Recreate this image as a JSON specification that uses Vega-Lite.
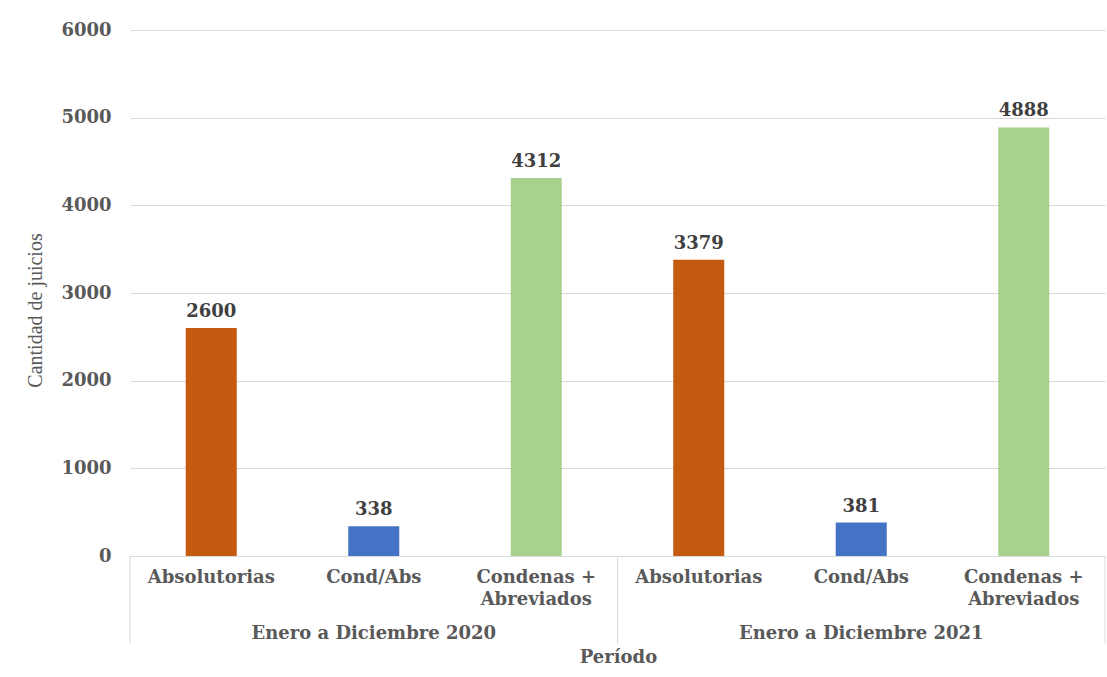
{
  "$schema": "https://vega.github.io/schema/vega-lite/v6.json",
  "width": 975,
  "height": 526,
  "autosize": "none",
  "padding": {"left": 130, "top": 30, "right": 2, "bottom": 121},
  "background": "white",
  "config": {
    "view": {"stroke": null},
    "font": "DejaVu Serif"
  },
  "data": {
    "values": [
      {"periodo": "Enero a Diciembre 2020", "tipo": "Absolutorias", "cantidad": 2600},
      {"periodo": "Enero a Diciembre 2020", "tipo": "Cond/Abs", "cantidad": 338},
      {"periodo": "Enero a Diciembre 2020", "tipo": "Condenas + Abreviados", "cantidad": 4312},
      {"periodo": "Enero a Diciembre 2021", "tipo": "Absolutorias", "cantidad": 3379},
      {"periodo": "Enero a Diciembre 2021", "tipo": "Cond/Abs", "cantidad": 381},
      {"periodo": "Enero a Diciembre 2021", "tipo": "Condenas + Abreviados", "cantidad": 4888}
    ]
  },
  "transform": [
    {"calculate": "datum.periodo + '|' + datum.tipo", "as": "clave"}
  ],
  "encoding": {
    "x": {
      "field": "clave",
      "type": "nominal",
      "sort": null,
      "scale": {"paddingInner": 0, "paddingOuter": 0},
      "axis": {
        "title": "Período",
        "titleFont": "DejaVu Serif",
        "titleFontWeight": "bold",
        "titleFontSize": 18,
        "titleColor": "#595959",
        "titleX": 488,
        "titleY": 106,
        "titleBaseline": "alphabetic",
        "labelExpr": "indexof(datum.value, 'Condenas') >= 0 ? ['Condenas +', 'Abreviados'] : split(datum.value, '|')[1]",
        "labelAngle": 0,
        "labelFont": "DejaVu Serif",
        "labelFontWeight": "bold",
        "labelFontSize": 18,
        "labelColor": "#595959",
        "labelBaseline": "top",
        "labelLineHeight": 22,
        "labelPadding": 12,
        "ticks": false,
        "domainColor": "#D9D9D9",
        "domainWidth": 1,
        "grid": false
      }
    }
  },
  "layer": [
    {
      "mark": {"type": "bar", "width": {"band": 0.314}},
      "encoding": {
        "y": {
          "field": "cantidad",
          "type": "quantitative",
          "scale": {"domain": [0, 6000], "nice": false, "zero": true},
          "axis": {
            "values": [0, 1000, 2000, 3000, 4000, 5000, 6000],
            "format": "d",
            "title": "Cantidad de juicios",
            "titleFont": "Liberation Serif",
            "titleFontWeight": "normal",
            "titleFontSize": 20,
            "titleColor": "#595959",
            "titleAngle": -90,
            "titleX": -95,
            "titleY": 280,
            "titleAlign": "center",
            "titleBaseline": "middle",
            "labelFont": "DejaVu Serif",
            "labelFontWeight": "bold",
            "labelFontSize": 18,
            "labelColor": "#595959",
            "labelPadding": 19,
            "ticks": false,
            "domain": false,
            "grid": true,
            "gridColor": "#D9D9D9",
            "gridWidth": 1
          }
        },
        "color": {
          "field": "tipo",
          "type": "nominal",
          "scale": {
            "domain": ["Absolutorias", "Cond/Abs", "Condenas + Abreviados"],
            "range": ["#C55A11", "#4472C4", "#A9D18E"]
          },
          "legend": null
        }
      }
    },
    {
      "mark": {"type": "text", "baseline": "alphabetic", "dy": -11, "font": "DejaVu Serif", "fontWeight": "bold", "fontSize": 18, "color": "#404040"},
      "encoding": {
        "y": {"field": "cantidad", "type": "quantitative"},
        "text": {"field": "cantidad", "type": "quantitative", "format": "d"}
      }
    },
    {
      "transform": [{"filter": "datum.tipo === 'Absolutorias'"}],
      "mark": {"type": "rule", "color": "#D9D9D9", "strokeWidth": 1},
      "encoding": {
        "x": {"field": "clave", "type": "nominal", "sort": null, "bandPosition": 0},
        "y": {"datum": 0},
        "y2": {"datum": -1000}
      }
    },
    {
      "transform": [{"filter": "datum.periodo === 'Enero a Diciembre 2021' && datum.tipo === 'Condenas + Abreviados'"}],
      "mark": {"type": "rule", "color": "#D9D9D9", "strokeWidth": 1},
      "encoding": {
        "x": {"field": "clave", "type": "nominal", "sort": null, "bandPosition": 1},
        "y": {"datum": 0},
        "y2": {"datum": -1000}
      }
    },
    {
      "transform": [{"filter": "datum.tipo === 'Cond/Abs'"}],
      "mark": {"type": "text", "baseline": "alphabetic", "font": "DejaVu Serif", "fontWeight": "bold", "fontSize": 18, "color": "#595959"},
      "encoding": {
        "y": {"datum": -947},
        "text": {"field": "periodo", "type": "nominal"}
      }
    }
  ]
}
